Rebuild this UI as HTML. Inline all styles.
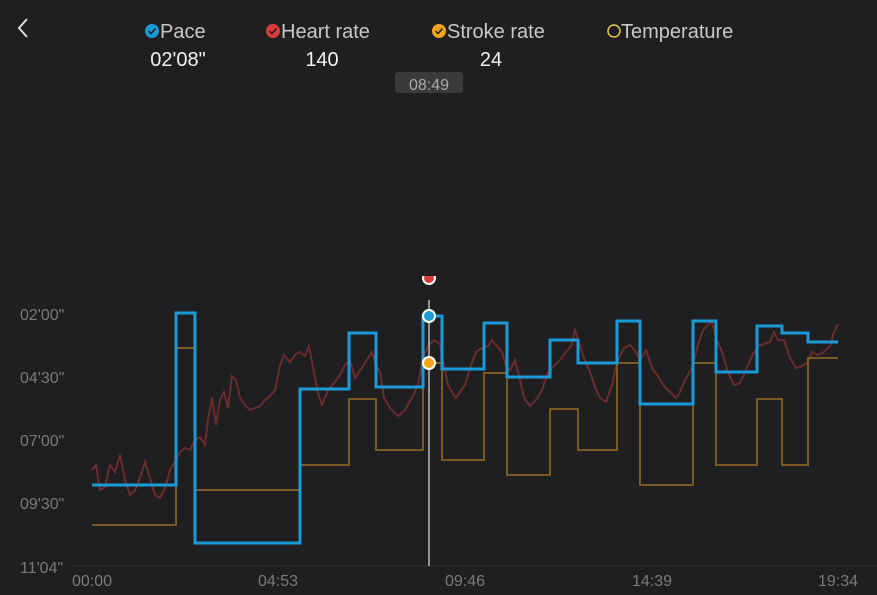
<!DOCTYPE html>
<html><head><meta charset="utf-8"><style>
body{margin:0;width:877px;height:595px;background:#1f1f21;overflow:hidden;font-family:"Liberation Sans",sans-serif}
</style></head><body>
<svg width="877" height="595" xmlns="http://www.w3.org/2000/svg" style="position:absolute;left:0;top:0">
<path d="M27 19 L19 28 L27 37" fill="none" stroke="#ddd" stroke-width="2"/>
<g font-size="20" fill="#c8c8c8">
<circle cx="152" cy="31" r="7" fill="#1a9ad6"/><path d="M148.5 31l2.5 2.5 4.5-5" stroke="#1f1f21" stroke-width="1.5" fill="none"/>
<text x="160" y="38">Pace</text>
<circle cx="273" cy="31" r="7" fill="#d93a3a"/><path d="M269.5 31l2.5 2.5 4.5-5" stroke="#1f1f21" stroke-width="1.5" fill="none"/>
<text x="281" y="38">Heart rate</text>
<circle cx="439" cy="31" r="7" fill="#f0a416"/><path d="M435.5 31l2.5 2.5 4.5-5" stroke="#1f1f21" stroke-width="1.5" fill="none"/>
<text x="447" y="38">Stroke rate</text>
<circle cx="614" cy="31" r="6" fill="none" stroke="#e6c84a" stroke-width="1.5"/>
<text x="621" y="38">Temperature</text>
</g>
<g font-size="20" fill="#f2f2f2" text-anchor="middle">
<text x="178" y="66">02'08"</text><text x="322" y="66">140</text><text x="491" y="66">24</text>
</g>
<rect x="395" y="72" width="68" height="21" rx="3" fill="#3a3a3c"/>
<text x="429" y="90" font-size="16" fill="#aaa" text-anchor="middle">08:49</text>
<g font-size="16" fill="#7a7a7a">
<text x="20" y="320">02'00"</text><text x="20" y="383">04'30"</text><text x="20" y="446">07'00"</text><text x="20" y="509">09'30"</text><text x="20" y="573">11'04"</text>
</g>
<g font-size="16" fill="#7a7a7a" text-anchor="middle">
<text x="92" y="586">00:00</text><text x="278" y="586">04:53</text><text x="465" y="586">09:46</text><text x="652" y="586">14:39</text><text x="838" y="586">19:34</text>
</g>
<line x1="70" y1="566" x2="877" y2="566" stroke="#333" stroke-width="1"/>
<polyline fill="none" stroke="#6b2b2b" stroke-width="2" points="92,470 96,465 100,490 105,487 110,465 115,472 120,455 125,480 130,495 135,490 140,478 145,462 150,478 155,495 160,498 165,488 170,470 176,460 180,452 185,448 190,450 195,440 200,437 205,445 208,420 212,398 216,425 220,400 224,392 228,408 232,376 236,380 240,398 245,405 250,410 255,408 260,406 265,400 270,396 275,390 280,365 284,355 290,362 296,354 300,352 305,356 309,346 313,367 318,393 322,405 328,390 335,382 340,375 345,365 350,360 355,378 362,368 368,358 372,352 376,365 380,372 384,398 390,408 398,416 405,410 412,398 418,385 423,358 428,346 434,340 440,344 444,365 448,385 452,392 456,398 460,392 465,385 470,368 476,352 482,348 488,346 492,340 496,345 502,352 506,366 510,370 515,360 520,380 524,398 530,406 536,400 542,390 548,372 554,366 560,360 566,352 571,346 575,330 580,345 584,358 590,372 596,390 600,398 606,402 612,385 617,362 624,348 630,345 636,352 640,360 646,350 652,368 658,376 664,386 670,392 676,398 680,392 686,378 692,368 698,345 703,330 708,325 712,322 716,338 722,352 728,372 734,385 740,383 746,370 752,356 758,346 764,344 770,342 774,332 778,340 784,340 790,358 796,368 802,366 808,362 812,352 818,355 824,352 830,346 834,332 838,324"/>
<polyline fill="none" stroke="#7a5a1e" stroke-width="2" points="92,525 176,525 176,348 195,348 195,490 300,490 300,465 349,465 349,399 376,399 376,450 423,450 423,363 442,363 442,460 484,460 484,373 507,373 507,475 550,475 550,409 578,409 578,450 617,450 617,363 640,363 640,485 693,485 693,363 716,363 716,465 757,465 757,399 782,399 782,465 808,465 808,358 838,358"/>
<polyline fill="none" stroke="#1a9ad6" stroke-width="3" points="92,485 176,485 176,313 195,313 195,543 300,543 300,389 349,389 349,333 376,333 376,387 423,387 423,316 442,316 442,369 484,369 484,323 507,323 507,377 550,377 550,340 578,340 578,363 617,363 617,321 640,321 640,404 693,404 693,321 716,321 716,372 757,372 757,326 782,326 782,333 808,333 808,342 838,342"/>
<line x1="429" y1="300" x2="429" y2="566" stroke="#bbb" stroke-width="1.5"/>
<circle cx="429" cy="278" r="6" fill="#d93a3a" stroke="#fff" stroke-width="2"/>
<rect x="415" y="262" width="30" height="14" fill="#1f1f21"/>
<circle cx="429" cy="316" r="6" fill="#1a9ad6" stroke="#fff" stroke-width="2"/>
<circle cx="429" cy="363" r="6" fill="#f0a416" stroke="#fff" stroke-width="2"/>
</svg>
</body></html>
